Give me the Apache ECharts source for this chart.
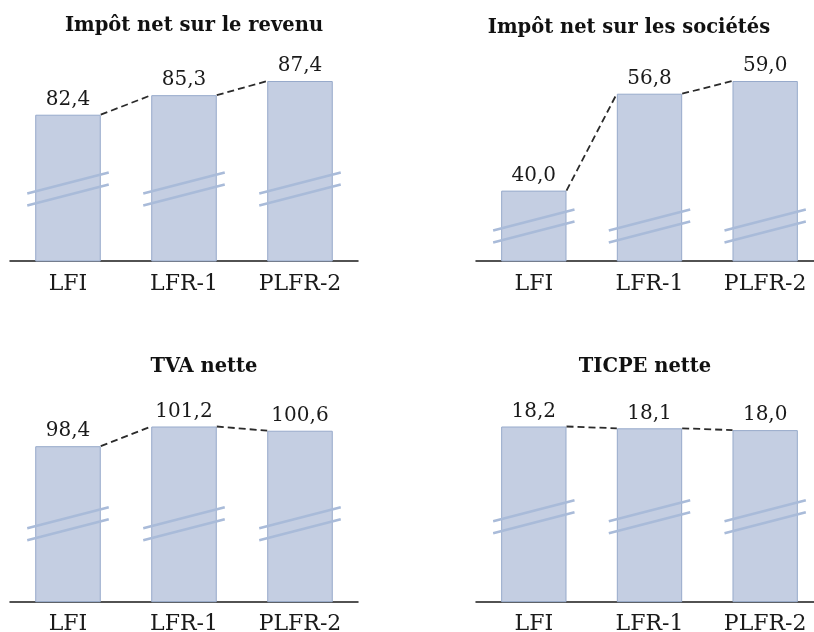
<!DOCTYPE html>
<html>
<head>
<meta charset="utf-8">
<script src="https://cdn.jsdelivr.net/npm/echarts@6/dist/echarts.min.js"></script>
<style>
  html, body { margin: 0; padding: 0; background: #fff; }
  #chart { width: 814px; height: 632px; }
</style>
</head>
<body>
<div id="chart"></div>
<script>
// données (Md€)
const categories = ['LFI', 'LFR-1', 'PLFR-2'];
const titles = ['Impôt net sur le revenu', 'Impôt net sur les sociétés', 'TVA nette', 'TICPE nette'];
const irValues = [82.4, 85.3, 87.4];
const isValues = [40.0, 56.8, 59.0];
const tvaValues = [98.4, 101.2, 100.6];
const ticpeValues = [18.2, 18.1, 18.0];
// bas de l'axe "coupé" de chaque panneau
const axisMin = [60.7, 27.8, 76.3, 8.5];

const allValues = [irValues, isValues, tvaValues, ticpeValues];

// mise en page des 4 panneaux
const panels = [
  { left: 10, width: 348, top: 81, bottom: 371, titleX: 194, titleY: 26, brk: 72 },
  { left: 476, width: 347, top: 81, bottom: 371, titleX: 629, titleY: 28, brk: 35 },
  { left: 10, width: 348, top: 426.5, bottom: 30.3, titleX: 204, titleY: 367, brk: 78 },
  { left: 476, width: 347, top: 426.5, bottom: 30.3, titleX: 645, titleY: 367, brk: 85 }
];

const BAR_RATIO = 0.565;
const FONT = '"DejaVu Serif", "Liberation Serif", serif';

const fmt = (v) => v.toFixed(1).replace('.', ',');

let grid = [], xAxis = [], yAxis = [], series = [], graphic = [];

panels.forEach((p, k) => {
  const values = allValues[k];
  grid.push({ left: p.left, width: p.width, top: p.top, bottom: p.bottom, outerBoundsMode: 'none', containLabel: false });
  xAxis.push({
    type: 'category',
    gridIndex: k,
    data: categories,
    axisLine: { show: true, lineStyle: { color: '#1a1a1a', width: 1.5 } },
    axisTick: { show: false },
    axisLabel: { color: '#1a1a1a', fontFamily: FONT, fontSize: 22, margin: 12 }
  });
  yAxis.push({
    type: 'value',
    gridIndex: k,
    min: axisMin[k],
    max: Math.max(...values),
    show: false
  });
  series.push({
    type: 'bar',
    xAxisIndex: k,
    yAxisIndex: k,
    data: values,
    barWidth: (BAR_RATIO * 100) + '%',
    itemStyle: { color: '#c4cee2', borderColor: '#97aacb', borderWidth: 1 },
    label: {
      show: true,
      position: 'top',
      distance: 5,
      fontFamily: FONT,
      fontSize: 20,
      color: '#1a1a1a',
      formatter: (d) => fmt(d.value)
    },
    silent: true
  });
  // tirets entre les sommets des barres
  series.push({
    type: 'custom',
    xAxisIndex: k,
    yAxisIndex: k,
    data: values.map((v, i) => [i, v]),
    z: 5,
    silent: true,
    renderItem: (params, api) => {
      const i = params.dataIndex;
      if (i >= values.length - 1) return null;
      const hw = api.size([1, 0])[0] * BAR_RATIO / 2;
      const a = api.coord([i, values[i]]);
      const b = api.coord([i + 1, values[i + 1]]);
      return {
        type: 'line',
        shape: { x1: a[0] + hw, y1: a[1], x2: b[0] - hw, y2: b[1] },
        style: { stroke: '#2a2a2a', lineWidth: 1.8, lineDash: [7, 4] }
      };
    }
  });
  // traits de coupure d'axe
  series.push({
    type: 'custom',
    xAxisIndex: k,
    yAxisIndex: k,
    data: values.map((v, i) => [i, v]),
    z: 6,
    silent: true,
    renderItem: (params, api) => {
      const i = api.value(0);
      const hw = api.size([1, 0])[0] * BAR_RATIO / 2;
      const c = api.coord([i, axisMin[k]]);
      const yc = c[1] - p.brk;
      const x1 = c[0] - hw - 8, x2 = c[0] + hw + 8;
      const rise = (x2 - x1) * 0.2575 / 2;
      const st = { stroke: '#a9bbd9', lineWidth: 2.5 };
      return {
        type: 'group',
        children: [
          { type: 'line', shape: { x1: x1, y1: yc - 6 + rise, x2: x2, y2: yc - 6 - rise }, style: st },
          { type: 'line', shape: { x1: x1, y1: yc + 6 + rise, x2: x2, y2: yc + 6 - rise }, style: st }
        ]
      };
    }
  });
  graphic.push({
    type: 'text',
    x: p.titleX,
    y: p.titleY,
    style: {
      text: titles[k],
      font: 'bold 19.5px ' + FONT,
      fill: '#111',
      align: 'center',
      verticalAlign: 'middle',
      textAlign: 'center',
      textVerticalAlign: 'middle'
    }
  });
});

const myChart = echarts.init(document.getElementById('chart'));
myChart.setOption({
  animation: false,
  grid: grid,
  xAxis: xAxis,
  yAxis: yAxis,
  series: series,
  graphic: graphic
});
</script>
</body>
</html>
